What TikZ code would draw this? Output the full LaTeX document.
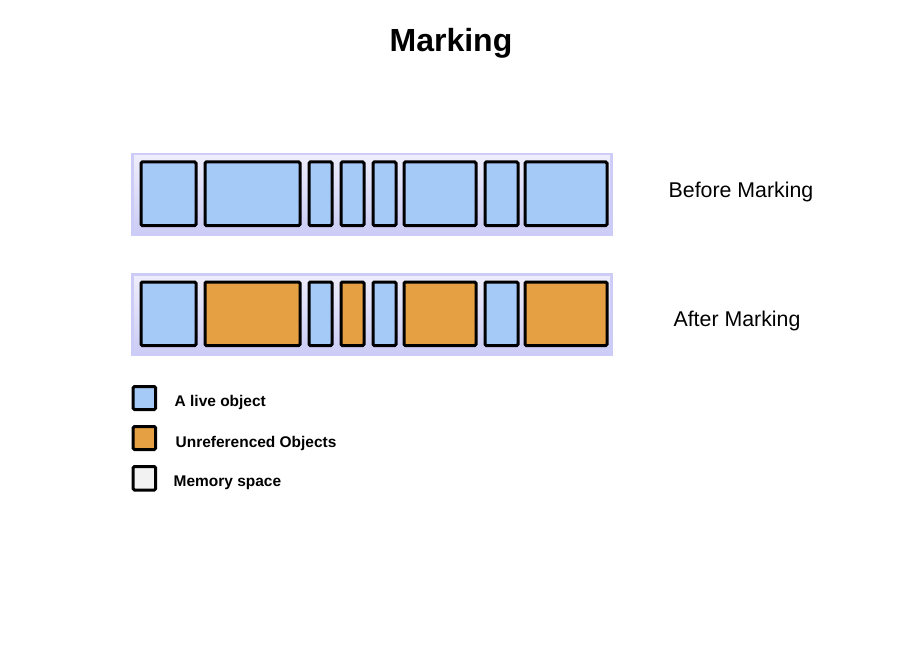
\documentclass[tikz,border=0pt]{standalone}
\usepackage{fontspec}
\setmainfont{Liberation Sans}
\usetikzlibrary{positioning}

\definecolor{liveblue}{RGB}{166,202,248}
\definecolor{deadorange}{RGB}{230,160,68}
\definecolor{heaplav}{RGB}{204,204,246}
\definecolor{freegray}{RGB}{242,242,242}

\begin{document}
\begin{tikzpicture}[x=0.75pt, y=-0.75pt,
    obj/.style={draw=black, line width=2.25pt, rounded corners=1pt},
    bartext/.style={font=\fontsize{16}{19}\selectfont},
    keytext/.style={font=\bfseries\fontsize{11.6}{14}\selectfont, anchor=west}]

    \useasboundingbox (0,0) rectangle (910,656);

    \node[font=\bfseries\fontsize{24}{28}\selectfont] (title) at (451,43) {Marking};

    % heap strips
    \foreach \y in {153,273} {
        \fill[heaplav] (131,\y) rectangle (613,\y+83);
        \shade[top color=heaplav!35!white, bottom color=heaplav]
            (134,\y+3) rectangle (610,\y+80);
    }

    % objects: before (all live) and after marking
    \foreach \a/\b/\c in {141/196/liveblue, 205/300/deadorange,
                          309/332/liveblue, 341/364/deadorange,
                          373/396/liveblue, 404/476/deadorange,
                          485/518/liveblue, 525/607/deadorange} {
        \draw[obj, fill=liveblue] (\a,162) rectangle (\b,225.5);
        \draw[obj, fill=\c] (\a,282) rectangle (\b,345.5);
    }

    \node[bartext] (before) at (741,192) {Before Marking};
    \node[bartext] (after) at (737,321) {After Marking};

    % legend
    \draw[obj, fill=liveblue] (133.2,386.5) rectangle (155.7,409.5);
    \draw[obj, fill=deadorange] (133.2,426.5) rectangle (155.7,449.5);
    \draw[obj, fill=freegray] (133.2,466.5) rectangle (155.7,490);

    \node[keytext] (keylive) at (170,402.5) {A live object};
    \node[keytext] (keydead) at (171,443.5) {Unreferenced Objects};
    \node[keytext] (keyfree) at (169,482.5) {Memory space};

\end{tikzpicture}
\end{document}
